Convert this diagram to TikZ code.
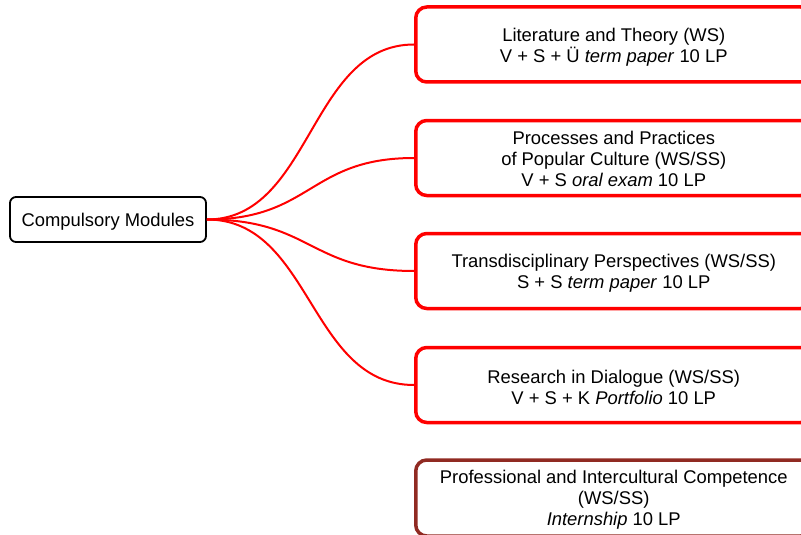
\documentclass[tikz,border=0pt]{standalone}
\usepackage{fontspec}
\setmainfont{Liberation Sans}
\definecolor{brick}{HTML}{902A22}
\begin{document}
\begin{tikzpicture}[x=1pt,y=-1pt,
  every node/.style={font=\fontsize{18.4}{21}\selectfont, align=center, inner sep=0pt},
  rootbox/.style={draw=black, line width=1.8pt, rounded corners=6pt, minimum width=196pt, minimum height=45pt},
  modbox/.style={draw=red, line width=3.5pt, rounded corners=11pt, minimum width=396pt, minimum height=75pt, anchor=west},
  lastbox/.style={modbox, draw=brick},
  txt/.style 2 args={label={[yshift=#1, align=center]center:#2}},
  link/.style={draw=red, line width=2pt}]
\clip (0,0) rectangle (801,535);
\node[rootbox, txt={-2.5pt}{Compulsory Modules}] (root) at (108,219.5) {};
\node[modbox, txt={-2.5pt}{Literature and Theory (WS)\\V + S + Ü \textit{term paper} 10 LP}] (b1) at (414,44.5) {};
\node[modbox, txt={-0.5pt}{Processes and Practices\\of Popular Culture (WS/SS)\\V + S \textit{oral exam} 10 LP}] (b2) at (414,158) {};
\node[modbox, txt={-2.5pt}{Transdisciplinary Perspectives (WS/SS)\\S + S \textit{term paper} 10 LP}] (b3) at (414,271) {};
\node[modbox, txt={-2.5pt}{Research in Dialogue (WS/SS)\\V + S + K \textit{Portfolio} 10 LP}] (b4) at (414,385) {};
\node[lastbox, minimum height=76pt, txt={-1.5pt}{Professional and Intercultural Competence\\(WS/SS)\\\textit{Internship} 10 LP}] (b5) at (414,498) {};
\foreach \b in {b1,b2,b3,b4}
  \draw[link] (root.east) .. controls +(105,0) and +(-105,0) .. (\b.west);
\end{tikzpicture}
\end{document}
